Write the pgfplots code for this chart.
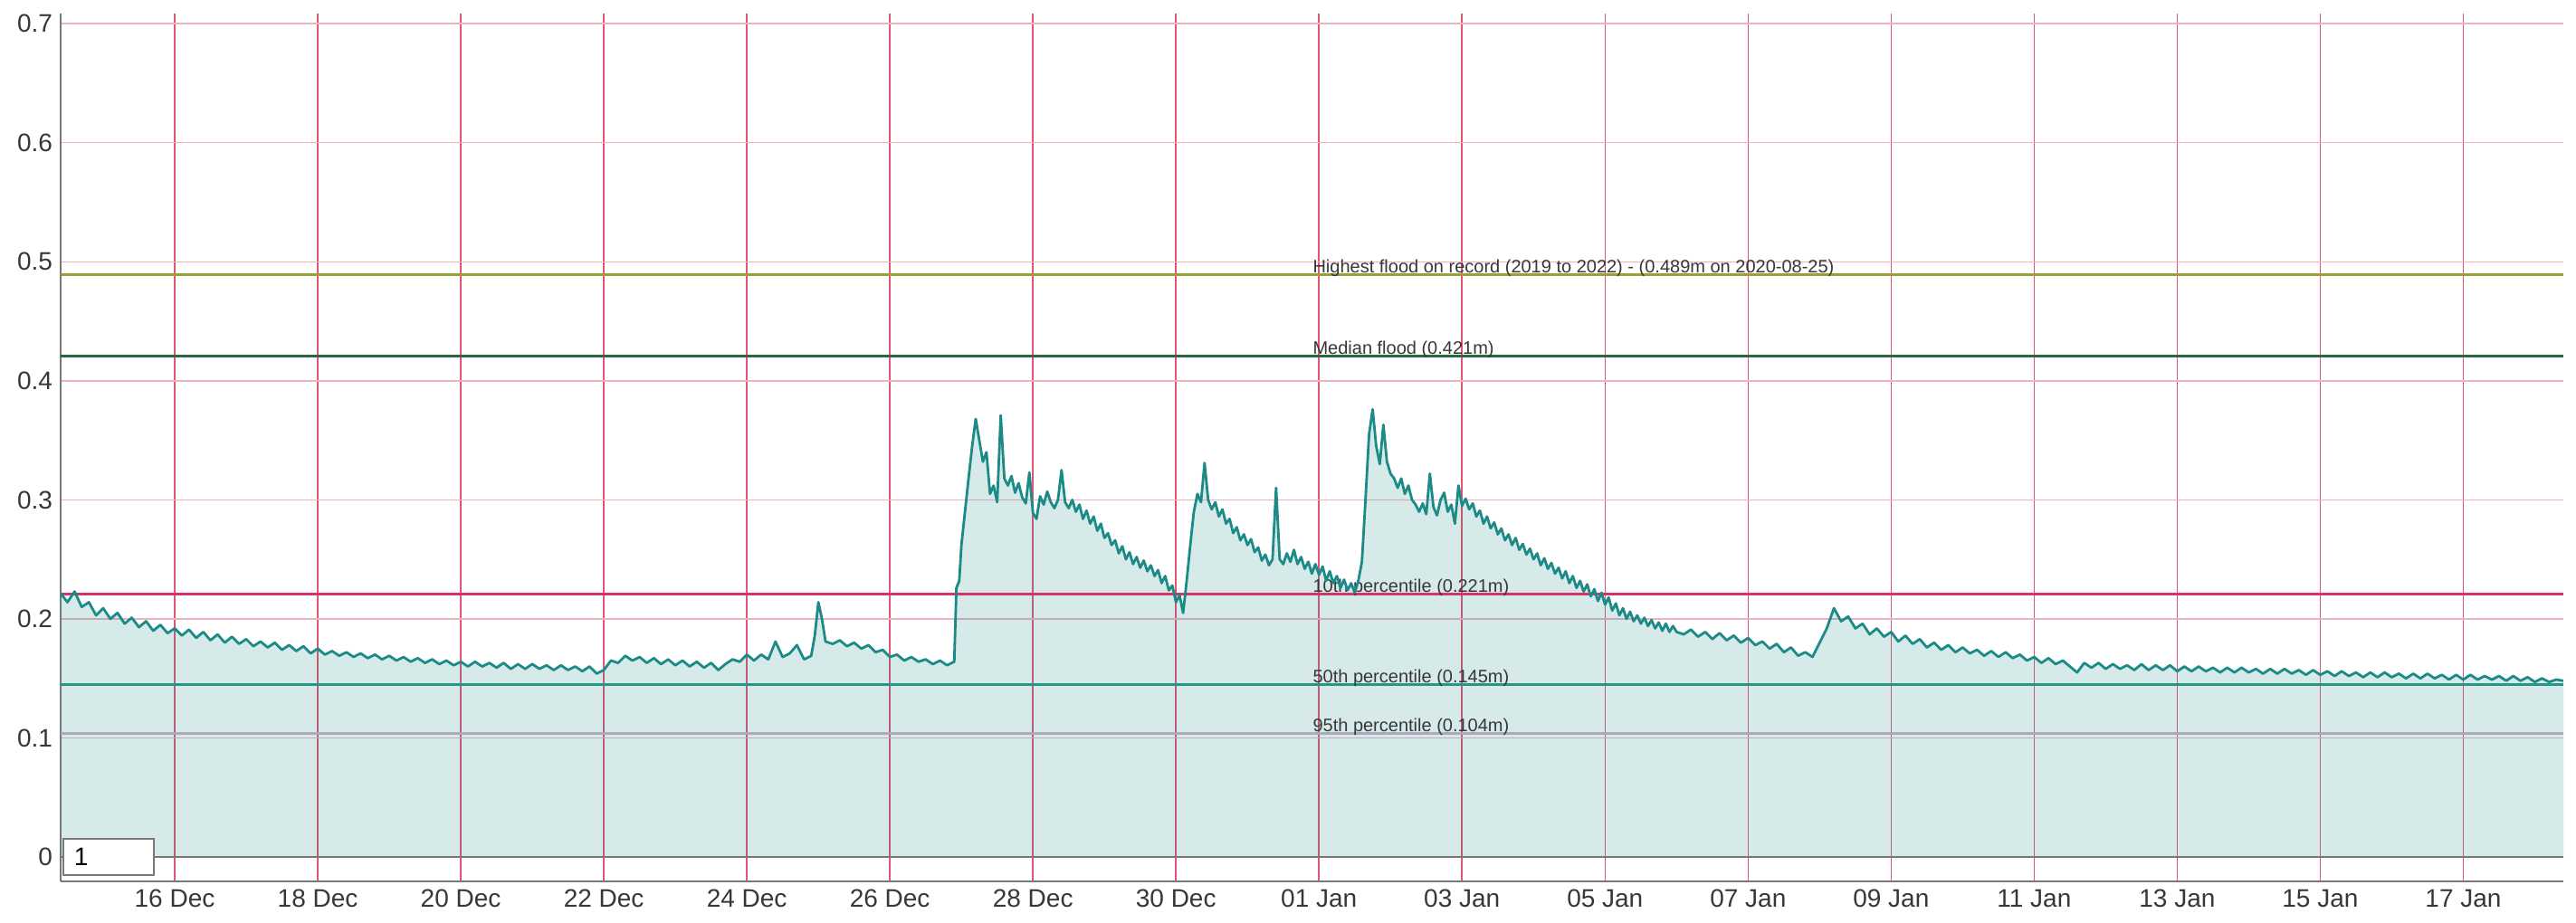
\documentclass[border=0pt]{standalone}
\usepackage{fontspec}
\setmainfont{Liberation Sans}
\usepackage{pgfplots}
\usepackage{pgfplotstable}
\pgfplotsset{compat=1.18}
\definecolor{vgrid}{RGB}{224,85,115}
\definecolor{hgrid}{RGB}{238,178,193}
\definecolor{axgray}{RGB}{120,120,120}
\definecolor{dataline}{RGB}{28,138,135}
\definecolor{highest}{RGB}{155,160,50}
\definecolor{median}{RGB}{40,105,65}
\definecolor{tenth}{RGB}{215,50,105}
\definecolor{fiftieth}{RGB}{40,150,130}
\definecolor{ninetyfifth}{RGB}{170,170,190}
\definecolor{labtext}{RGB}{55,55,55}
\pgfplotstableread{
x y
-1.6 0.222
-1.5 0.214
-1.4 0.223
-1.3 0.210
-1.2 0.214
-1.1 0.203
-1.0 0.209
-0.9 0.200
-0.8 0.205
-0.7 0.196
-0.6 0.201
-0.5 0.193
-0.4 0.198
-0.3 0.190
-0.2 0.195
-0.1 0.188
0.0 0.192
0.1 0.186
0.2 0.191
0.3 0.184
0.4 0.189
0.5 0.182
0.6 0.187
0.7 0.180
0.8 0.185
0.9 0.179
1.0 0.183
1.1 0.177
1.2 0.181
1.3 0.176
1.4 0.180
1.5 0.174
1.6 0.178
1.7 0.173
1.8 0.177
1.9 0.171
2.0 0.175
2.1 0.170
2.2 0.173
2.3 0.169
2.4 0.172
2.5 0.168
2.6 0.171
2.7 0.167
2.8 0.170
2.9 0.166
3.0 0.169
3.1 0.165
3.2 0.168
3.3 0.164
3.4 0.167
3.5 0.163
3.6 0.166
3.7 0.162
3.8 0.165
3.9 0.161
4.0 0.164
4.1 0.160
4.2 0.164
4.3 0.160
4.4 0.163
4.5 0.159
4.6 0.163
4.7 0.158
4.8 0.162
4.9 0.158
5.0 0.162
5.1 0.158
5.2 0.161
5.3 0.157
5.4 0.161
5.5 0.157
5.6 0.160
5.7 0.156
5.8 0.160
5.9 0.154
6.0 0.157
6.1 0.165
6.2 0.163
6.3 0.169
6.4 0.165
6.5 0.168
6.6 0.163
6.7 0.167
6.8 0.162
6.9 0.166
7.0 0.161
7.1 0.165
7.2 0.160
7.3 0.164
7.4 0.159
7.5 0.163
7.6 0.157
7.7 0.162
7.8 0.166
7.9 0.164
8.0 0.170
8.1 0.165
8.2 0.170
8.3 0.166
8.4 0.181
8.5 0.168
8.6 0.171
8.7 0.178
8.8 0.166
8.9 0.169
8.95 0.186
9.0 0.214
9.05 0.200
9.1 0.181
9.2 0.179
9.3 0.182
9.4 0.177
9.5 0.180
9.6 0.175
9.7 0.178
9.8 0.172
9.9 0.174
10.0 0.168
10.1 0.170
10.2 0.165
10.3 0.168
10.4 0.164
10.5 0.166
10.6 0.162
10.7 0.165
10.8 0.161
10.9 0.164
10.93 0.226
10.97 0.232
11.00 0.262
11.05 0.290
11.10 0.318
11.15 0.345
11.20 0.368
11.25 0.350
11.30 0.332
11.35 0.340
11.40 0.305
11.45 0.312
11.50 0.298
11.55 0.371
11.60 0.318
11.65 0.312
11.70 0.320
11.75 0.306
11.80 0.314
11.85 0.302
11.90 0.297
11.95 0.323
12.00 0.289
12.05 0.284
12.10 0.303
12.15 0.296
12.20 0.307
12.25 0.298
12.30 0.293
12.35 0.300
12.40 0.325
12.45 0.298
12.50 0.293
12.55 0.300
12.60 0.290
12.65 0.296
12.70 0.284
12.75 0.291
12.80 0.280
12.85 0.286
12.90 0.274
12.95 0.280
13.00 0.268
13.05 0.272
13.10 0.262
13.15 0.266
13.20 0.255
13.25 0.261
13.30 0.250
13.35 0.256
13.40 0.246
13.45 0.252
13.50 0.243
13.55 0.249
13.60 0.240
13.65 0.245
13.70 0.236
13.75 0.241
13.80 0.230
13.85 0.236
13.90 0.224
13.95 0.228
14.00 0.214
14.05 0.220
14.10 0.205
14.15 0.232
14.20 0.262
14.25 0.290
14.30 0.305
14.35 0.298
14.40 0.331
14.45 0.300
14.50 0.292
14.55 0.298
14.60 0.286
14.65 0.292
14.70 0.280
14.75 0.284
14.80 0.272
14.85 0.277
14.90 0.266
14.95 0.271
15.00 0.262
15.05 0.267
15.10 0.256
15.15 0.260
15.20 0.249
15.25 0.254
15.30 0.245
15.35 0.250
15.40 0.310
15.45 0.250
15.50 0.246
15.55 0.255
15.60 0.248
15.65 0.258
15.70 0.246
15.75 0.252
15.80 0.242
15.85 0.248
15.90 0.238
15.95 0.246
16.00 0.237
16.05 0.244
16.10 0.232
16.15 0.240
16.20 0.230
16.25 0.236
16.30 0.226
16.35 0.233
16.40 0.224
16.45 0.230
16.50 0.222
16.55 0.232
16.60 0.248
16.65 0.300
16.70 0.355
16.75 0.376
16.80 0.345
16.85 0.330
16.90 0.363
16.95 0.332
17.00 0.322
17.05 0.318
17.10 0.310
17.15 0.318
17.20 0.305
17.25 0.312
17.30 0.300
17.35 0.296
17.40 0.290
17.45 0.297
17.50 0.288
17.55 0.322
17.60 0.294
17.65 0.287
17.70 0.300
17.75 0.306
17.80 0.290
17.85 0.296
17.90 0.280
17.95 0.312
18.00 0.295
18.05 0.301
18.10 0.292
18.15 0.297
18.20 0.286
18.25 0.291
18.30 0.280
18.35 0.286
18.40 0.276
18.45 0.281
18.50 0.271
18.55 0.276
18.60 0.266
18.65 0.271
18.70 0.262
18.75 0.268
18.80 0.258
18.85 0.263
18.90 0.254
18.95 0.259
19.00 0.250
19.05 0.255
19.10 0.245
19.15 0.251
19.20 0.242
19.25 0.247
19.30 0.238
19.35 0.243
19.40 0.234
19.45 0.240
19.50 0.230
19.55 0.236
19.60 0.226
19.65 0.232
19.70 0.223
19.75 0.229
19.80 0.219
19.85 0.225
19.90 0.215
19.95 0.222
20.00 0.212
20.05 0.218
20.10 0.207
20.15 0.213
20.20 0.203
20.25 0.209
20.30 0.200
20.35 0.206
20.40 0.198
20.45 0.203
20.50 0.196
20.55 0.201
20.60 0.194
20.65 0.199
20.70 0.192
20.75 0.197
20.80 0.190
20.85 0.196
20.90 0.189
20.95 0.194
21.0 0.189
21.1 0.187
21.2 0.191
21.3 0.185
21.4 0.189
21.5 0.183
21.6 0.188
21.7 0.182
21.8 0.186
21.9 0.180
22.0 0.184
22.1 0.178
22.2 0.181
22.3 0.175
22.4 0.179
22.5 0.172
22.6 0.176
22.7 0.169
22.8 0.172
22.9 0.168
23.0 0.180
23.1 0.192
23.2 0.209
23.3 0.198
23.4 0.202
23.5 0.192
23.6 0.196
23.7 0.187
23.8 0.192
23.9 0.185
24.0 0.189
24.1 0.181
24.2 0.186
24.3 0.179
24.4 0.183
24.5 0.176
24.6 0.180
24.7 0.174
24.8 0.178
24.9 0.172
25.0 0.176
25.1 0.171
25.2 0.174
25.3 0.169
25.4 0.173
25.5 0.168
25.6 0.172
25.7 0.167
25.8 0.170
25.9 0.165
26.0 0.168
26.1 0.163
26.2 0.167
26.3 0.162
26.4 0.165
26.5 0.160
26.6 0.155
26.7 0.163
26.8 0.159
26.9 0.163
27.0 0.158
27.1 0.162
27.2 0.158
27.3 0.161
27.4 0.157
27.5 0.162
27.6 0.157
27.7 0.161
27.8 0.157
27.9 0.161
28.0 0.156
28.1 0.160
28.2 0.156
28.3 0.160
28.4 0.156
28.5 0.159
28.6 0.155
28.7 0.159
28.8 0.155
28.9 0.159
29.0 0.155
29.1 0.158
29.2 0.154
29.3 0.158
29.4 0.154
29.5 0.158
29.6 0.154
29.7 0.157
29.8 0.153
29.9 0.157
30.0 0.153
30.1 0.156
30.2 0.152
30.3 0.156
30.4 0.152
30.5 0.155
30.6 0.151
30.7 0.155
30.8 0.151
30.9 0.155
31.0 0.151
31.1 0.154
31.2 0.150
31.3 0.154
31.4 0.150
31.5 0.154
31.6 0.150
31.7 0.153
31.8 0.149
31.9 0.153
32.0 0.149
32.1 0.153
32.2 0.149
32.3 0.152
32.4 0.149
32.5 0.152
32.6 0.148
32.7 0.152
32.8 0.148
32.9 0.151
33.0 0.147
33.1 0.150
33.2 0.147
33.3 0.149
33.4 0.148
}\levels
\begin{document}
\begin{tikzpicture}
\path[use as bounding box] (-33.5pt,-23pt) rectangle (1389.5pt,487pt);
\begin{axis}[
  scale only axis,
  width=1382.5pt, height=479.5pt,
  xmin=-1.595, xmax=33.4,
  ymin=-0.0205, ymax=0.7085,
  axis x line*=bottom, axis y line*=left,
  axis line style={-, draw=axgray, line width=1pt},
  xtick={0,2,...,32},
  xticklabels={16 Dec,18 Dec,20 Dec,22 Dec,24 Dec,26 Dec,28 Dec,30 Dec,01 Jan,03 Jan,05 Jan,07 Jan,09 Jan,11 Jan,13 Jan,15 Jan,17 Jan},
  ytick={0,0.1,0.2,0.3,0.4,0.5,0.6,0.7},
  yticklabels={0,0.1,0.2,0.3,0.4,0.5,0.6,0.7},
  major tick length=0pt,
  tick label style={font=\fontsize{14}{16}\selectfont, text=labtext},
  xticklabel style={yshift=-1pt},
  yticklabel style={xshift=-1pt},
  grid=major,
  x grid style={draw=vgrid, line width=0.8pt},
  y grid style={draw=hgrid, line width=0.7pt},
  clip=true,
]
\addplot[draw=none, fill=dataline, fill opacity=0.18] table[x=x,y=y] {\levels} \closedcycle;
\addplot[draw=axgray, line width=0.8pt] coordinates {(-1.595,0) (33.4,0)};
\addplot[draw=ninetyfifth, line width=1.6pt] coordinates {(-1.595,0.104) (33.4,0.104)};
\addplot[draw=fiftieth, line width=1.6pt] coordinates {(-1.595,0.145) (33.4,0.145)};
\addplot[draw=tenth, line width=1.6pt] coordinates {(-1.595,0.221) (33.4,0.221)};
\addplot[draw=median, line width=1.6pt] coordinates {(-1.595,0.421) (33.4,0.421)};
\addplot[draw=highest, line width=1.6pt] coordinates {(-1.595,0.489) (33.4,0.489)};
\begin{scope}[every node/.style={anchor=base west, inner sep=0pt, text=labtext, font=\fontsize{10}{12}\selectfont}]
\node at (axis cs:15.91,0.489) [yshift=1pt] {Highest flood on record (2019 to 2022) - (0.489m on 2020-08-25)};
\node at (axis cs:15.91,0.421) [yshift=1pt] {Median flood (0.421m)};
\node at (axis cs:15.91,0.221) [yshift=1pt] {10th percentile (0.221m)};
\node at (axis cs:15.91,0.145) [yshift=1pt] {50th percentile (0.145m)};
\node at (axis cs:15.91,0.104) [yshift=1pt] {95th percentile (0.104m)};
\end{scope}
\addplot[draw=dataline, line width=1.4pt, line join=round] table[x=x,y=y] {\levels};
\node[anchor=north west, draw=axgray, line width=0.8pt, fill=white, minimum width=50pt, minimum height=20pt, inner sep=0pt, text width=44pt, align=left, font=\fontsize{14}{16}\selectfont] at (axis cs:-1.57,0.016) {\hspace{3pt}1};
\end{axis}
\end{tikzpicture}
\end{document}
